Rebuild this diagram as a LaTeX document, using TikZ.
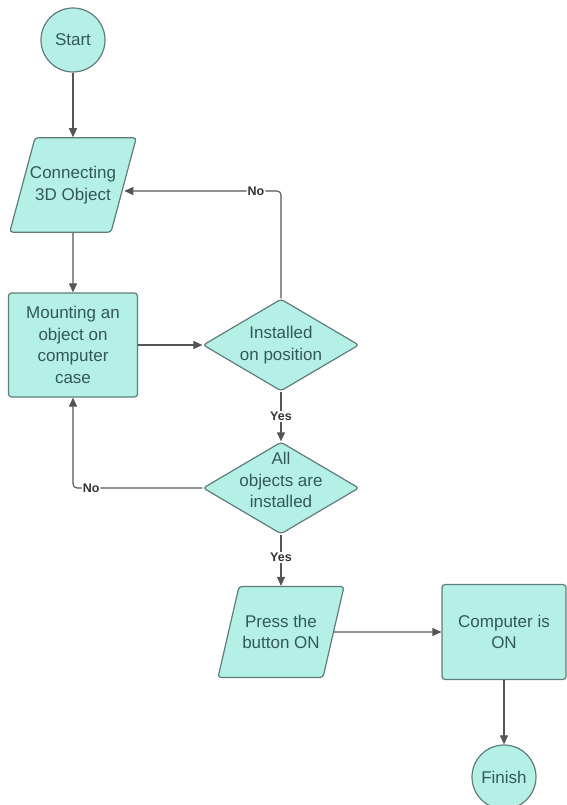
\documentclass[tikz,border=0pt]{standalone}
\usepackage{fontspec}
\setmainfont{Liberation Sans}
\usepackage{tikz}
\usetikzlibrary{
	arrows.meta,
	shapes.geometric
}
\definecolor{MintFill}{RGB}{180,240,230}
\definecolor{TealEdge}{RGB}{95,125,122}
\definecolor{TealText}{RGB}{52,88,86}
\definecolor{LineGray}{RGB}{85,85,85}

\begin{document}
\begin{tikzpicture}[x=1pt, y=-1pt,
		inside/.style={text=TealText, font=\fontsize{17}{21.5}\selectfont, align=center},
		box/.style={inside, draw=TealEdge, fill=MintFill, line width=1.2pt, rounded corners=3pt},
		terminal/.style={box, circle, sharp corners, minimum size=64pt, inner sep=0pt},
		process/.style={box, rectangle, minimum width=124pt, minimum height=104pt},
		io/.style={box, trapezium, trapezium stretches body, inner xsep=0pt, inner ysep=28.5pt},
		decision/.style={box, diamond, minimum width=156pt, minimum height=92pt, inner sep=0pt},
		flow/.style={draw=LineGray, line width=1.1pt, -{Triangle[length=9pt, width=8pt]}},
		answer/.style={fill=white, text=black!80, font=\fontsize{12.5}{14}\selectfont\bfseries, inner sep=1pt}
	]
	\useasboundingbox (0,0) rectangle (566,805);

	% shapes
	\node[io, inner xsep=-5pt, trapezium left angle=75, trapezium right angle=105, minimum width=123pt] (conn) at (73,185) {Connecting\\3D Object};
	\node[terminal] (start) at (73,40) {Start};
	\node[process, minimum width=129pt] (mount) at (73,345) {Mounting an\\object on\\computer\\case};
	\node[decision, label={[inside]center:Installed\\on position}] (inst) at (281,345) {};
	\node[decision, label={[inside, yshift=8pt]center:All\\objects are\\installed}] (allobj) at (281,488) {};
	\node[io, trapezium left angle=77, trapezium right angle=103, minimum width=126pt] (press) at (281,632) {Press the\\button ON};
	\node[process, minimum height=95pt] (compon) at (504,632) {Computer is\\ON};
	\node[terminal] (finish) at (504,777) {Finish};

	% connectors
	\draw[flow] (start) -- (conn);
	\draw[flow] (conn) -- (mount);
	\draw[flow] (mount) -- (inst);
	\draw[flow, rounded corners=4pt] (inst.north) |- node[answer, pos=0.58] {No} ([yshift=-6pt]conn.east);
	\draw[flow] (inst) -- node[answer] {Yes} (allobj);
	\draw[flow, rounded corners=4pt] (allobj.west) -| node[answer, pos=0.43] {No} (mount.south);
	\draw[flow] (allobj) -- node[answer, pos=0.45] {Yes} (press);
	\draw[flow] (press) -- (compon);
	\draw[flow] (compon) -- (finish);
\end{tikzpicture}
\end{document}
